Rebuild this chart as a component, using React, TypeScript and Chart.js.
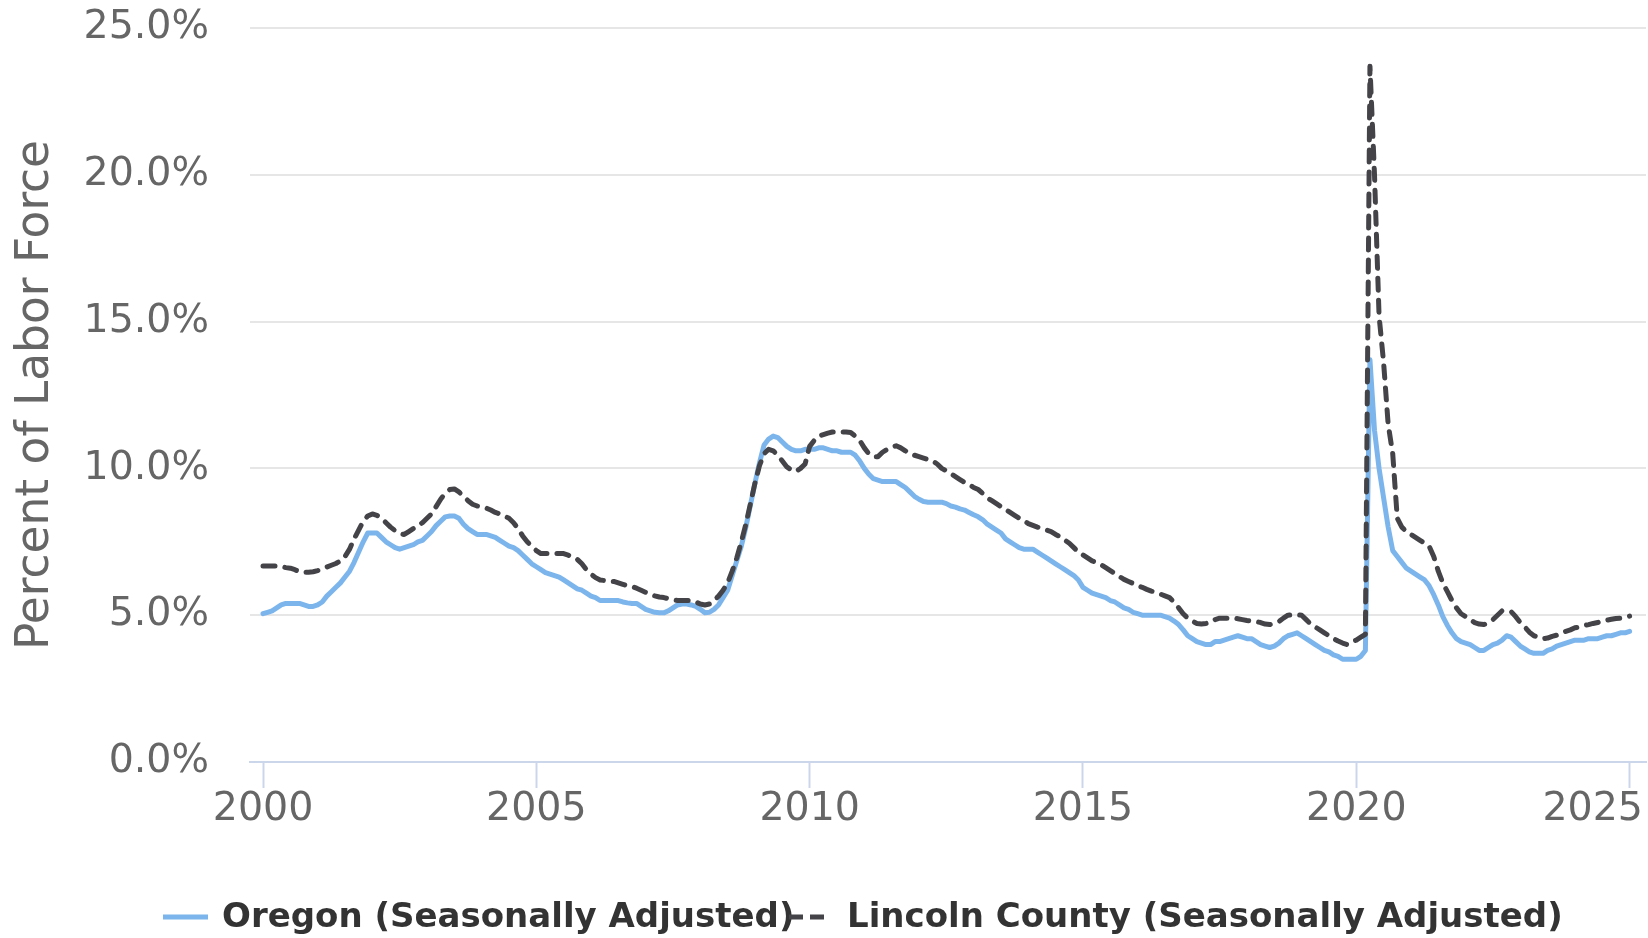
import React, { useEffect, useRef } from "react";
import { Chart, registerables } from "chart.js";

Chart.register(...registerables);

// ---- Data (monthly, Jan 2000 .. Jan 2025) ----
const START_YEAR = 2000;

const seriesNames = [
  "Oregon (Seasonally Adjusted)",
  "Lincoln County (Seasonally Adjusted)",
];

// Oregon unemployment rate, % of labor force
const oregonRate = [
  // 2000
  5.05, 5.1, 5.15, 5.25, 5.35, 5.4, 5.4, 5.4, 5.4, 5.35, 5.3, 5.3,
  // 2001
  5.35, 5.45, 5.65, 5.8, 5.95, 6.1, 6.3, 6.5, 6.8, 7.15, 7.5, 7.8,
  // 2002
  7.8, 7.8, 7.65, 7.5, 7.4, 7.3, 7.25, 7.3, 7.35, 7.4, 7.5, 7.55,
  // 2003
  7.7, 7.85, 8.05, 8.2, 8.35, 8.38, 8.38, 8.3, 8.1, 7.95, 7.85, 7.75,
  // 2004
  7.75, 7.75, 7.7, 7.65, 7.55, 7.45, 7.35, 7.3, 7.2, 7.05, 6.9, 6.75,
  // 2005
  6.65, 6.55, 6.45, 6.4, 6.35, 6.3, 6.2, 6.1, 6.0, 5.9, 5.85, 5.75,
  // 2006
  5.65, 5.6, 5.5, 5.5, 5.5, 5.5, 5.5, 5.45, 5.42, 5.4, 5.4, 5.3,
  // 2007
  5.2, 5.15, 5.1, 5.08, 5.08, 5.15, 5.25, 5.35, 5.38, 5.38, 5.35, 5.3,
  // 2008
  5.2, 5.08, 5.1, 5.2, 5.35, 5.6, 5.85, 6.35, 6.85, 7.35, 8.0, 8.75,
  // 2009
  9.5, 10.2, 10.8, 11.0, 11.1, 11.05, 10.9, 10.75, 10.65, 10.6, 10.6, 10.65,
  // 2010
  10.65, 10.65, 10.7, 10.7, 10.65, 10.6, 10.6, 10.55, 10.55, 10.55, 10.45, 10.25,
  // 2011
  10.0, 9.8, 9.65, 9.6, 9.55, 9.55, 9.55, 9.55, 9.45, 9.35, 9.2, 9.05,
  // 2012
  8.95, 8.87, 8.85, 8.85, 8.85, 8.85, 8.8, 8.72, 8.68, 8.62, 8.58, 8.5,
  // 2013
  8.42, 8.35, 8.25, 8.1, 8.0, 7.9, 7.8, 7.6, 7.5, 7.4, 7.3, 7.25,
  // 2014
  7.25, 7.25, 7.15, 7.05, 6.95, 6.85, 6.75, 6.65, 6.55, 6.45, 6.35, 6.2,
  // 2015
  5.95, 5.85, 5.75, 5.7, 5.65, 5.6, 5.5, 5.45, 5.35, 5.25, 5.2, 5.1,
  // 2016
  5.05, 5.0, 5.0, 5.0, 5.0, 5.0, 4.95, 4.9, 4.8, 4.68, 4.5, 4.3,
  // 2017
  4.2, 4.1, 4.05, 4.0, 4.0, 4.1, 4.1, 4.15, 4.2, 4.25, 4.3, 4.25,
  // 2018
  4.2, 4.2, 4.1, 4.0, 3.95, 3.9, 3.95, 4.05, 4.2, 4.3, 4.35, 4.4,
  // 2019
  4.3, 4.2, 4.1, 4.0, 3.9, 3.8, 3.75, 3.65, 3.6, 3.5, 3.5, 3.5,
  // 2020
  3.5, 3.6, 3.8, 13.7, 11.3, 10.0, 9.0, 8.0, 7.2, 7.0, 6.8, 6.6,
  // 2021
  6.5, 6.4, 6.3, 6.2, 6.0, 5.7, 5.35, 4.95, 4.65, 4.4, 4.2, 4.1,
  // 2022
  4.05, 4.0, 3.9, 3.8, 3.8, 3.9, 4.0, 4.05, 4.15, 4.3, 4.25, 4.1,
  // 2023
  3.95, 3.85, 3.75, 3.7, 3.7, 3.7, 3.8, 3.85, 3.95, 4.0, 4.05, 4.1,
  // 2024
  4.15, 4.15, 4.15, 4.2, 4.2, 4.2, 4.25, 4.3, 4.3, 4.35, 4.4, 4.4,
  // 2025
  4.45,
];

// Lincoln County unemployment rate, % of labor force
const lincolnRate = [
  // 2000
  6.68, 6.68, 6.68, 6.68, 6.66, 6.62, 6.6, 6.55, 6.48, 6.46, 6.46, 6.48,
  // 2001
  6.52, 6.58, 6.64, 6.7, 6.76, 6.85, 7.0, 7.25, 7.6, 7.9, 8.2, 8.38,
  // 2002
  8.45, 8.4, 8.3, 8.15, 8.0, 7.88, 7.78, 7.75, 7.85, 7.95, 8.05, 8.15,
  // 2003
  8.3, 8.45, 8.7, 8.95, 9.15, 9.28, 9.3, 9.2, 9.05, 8.9, 8.78, 8.72,
  // 2004
  8.68, 8.65, 8.58, 8.5, 8.45, 8.38, 8.3, 8.15, 7.95, 7.7, 7.5, 7.35,
  // 2005
  7.2, 7.1, 7.1, 7.1, 7.1, 7.1, 7.1, 7.05, 6.95, 6.9, 6.75, 6.55,
  // 2006
  6.4, 6.28, 6.2, 6.18, 6.15, 6.15, 6.1, 6.05, 6.0, 5.98, 5.92, 5.85,
  // 2007
  5.78, 5.72, 5.66, 5.62, 5.6, 5.56, 5.52, 5.5, 5.5, 5.5, 5.5, 5.45,
  // 2008
  5.38, 5.35, 5.38, 5.5, 5.65, 5.85, 6.1, 6.5, 6.95, 7.5, 8.1, 8.8,
  // 2009
  9.5, 10.1, 10.5, 10.65, 10.6, 10.45, 10.25, 10.05, 9.95, 9.9, 10.0, 10.15,
  // 2010
  10.75, 10.95, 11.1, 11.15, 11.2, 11.24, 11.24, 11.24, 11.24, 11.22, 11.1, 10.95,
  // 2011
  10.7, 10.5, 10.4, 10.4, 10.55, 10.65, 10.72, 10.77, 10.7, 10.6, 10.5, 10.45,
  // 2012
  10.4, 10.35, 10.3, 10.25, 10.15, 10.0, 9.92, 9.82, 9.72, 9.62, 9.52, 9.45,
  // 2013
  9.35, 9.28, 9.15, 9.0, 8.9, 8.8, 8.7, 8.6, 8.5, 8.4, 8.3, 8.22,
  // 2014
  8.12, 8.06, 8.0, 7.95, 7.9, 7.85, 7.75, 7.67, 7.56, 7.45, 7.3, 7.15,
  // 2015
  7.05, 6.95, 6.85, 6.8, 6.72, 6.62, 6.52, 6.42, 6.32, 6.22, 6.15, 6.08,
  // 2016
  6.0, 5.95, 5.88, 5.82, 5.78, 5.72, 5.66, 5.6, 5.45, 5.25, 5.05, 4.9,
  // 2017
  4.8, 4.72, 4.7, 4.72, 4.75, 4.85, 4.9, 4.9, 4.9, 4.9, 4.88, 4.85,
  // 2018
  4.82, 4.8, 4.78, 4.75, 4.7, 4.68, 4.72, 4.78, 4.9, 5.0, 5.02, 5.02,
  // 2019
  5.0, 4.85, 4.7, 4.6, 4.5, 4.4, 4.3, 4.2, 4.12, 4.05, 4.0, 4.1,
  // 2020
  4.15, 4.25, 4.35, 23.7, 20.0, 15.2, 13.6, 11.5, 10.5, 8.3, 8.0, 7.85,
  // 2021
  7.75, 7.65, 7.55, 7.45, 7.35, 7.0, 6.5, 6.1, 5.8, 5.5, 5.25, 5.05,
  // 2022
  4.95, 4.85, 4.75, 4.7, 4.68, 4.75, 4.85, 5.0, 5.15, 5.15, 5.12, 4.95,
  // 2023
  4.75, 4.6, 4.42, 4.3, 4.25, 4.2, 4.22, 4.28, 4.32, 4.38, 4.45, 4.5,
  // 2024
  4.57, 4.6, 4.65, 4.68, 4.72, 4.75, 4.8, 4.83, 4.86, 4.89, 4.9, 4.93,
  // 2025
  4.97,
];

const xTickYears = [2000, 2005, 2010, 2015, 2020, 2025];
const yTickValues = [0, 5, 10, 15, 20, 25];

const COLORS = { oregon: "#7cb5ec", lincoln: "#434348" };
const FONT = '"DejaVu Sans", "Noto Sans", sans-serif';

const toPoints = (values: number[]) =>
  values.map((v, i) => ({ x: START_YEAR + i / 12, y: v }));

// Center x labels on their ticks; keep the last one inside the canvas
const xLabelAlignPlugin = {
  id: "xLabelAlign",
  beforeDraw(chart: any) {
    const s = chart.scales.x;
    const items = s.getLabelItems(chart.chartArea);
    if (!items || !items.length) return;
    const edge = chart.width - 5;
    items.forEach((it: any, i: number) => {
      const px = s.getPixelForValue(xTickYears[i]);
      const y = it.options.translation[1];
      const isLast = i === items.length - 1;
      if (isLast && px + 49 > edge) {
        it.options.textAlign = "right";
        it.options.translation = [edge, y];
      } else {
        it.options.textAlign = "center";
        it.options.translation = [px, y];
      }
    });
  },
};

// Legend drawn on the canvas (layout positions only)
const legendPlugin = {
  id: "bottomLegend",
  afterDraw(chart: any) {
    const ctx = chart.ctx as CanvasRenderingContext2D;
    const y = 917;
    ctx.save();
    ctx.strokeStyle = COLORS.oregon;
    ctx.lineWidth = 5;
    ctx.lineCap = "butt";
    ctx.setLineDash([]);
    ctx.beginPath();
    ctx.moveTo(163, y);
    ctx.lineTo(208, y);
    ctx.stroke();
    ctx.font = `bold 34px ${FONT}`;
    ctx.fillStyle = "#333333";
    ctx.textBaseline = "middle";
    ctx.textAlign = "left";
    ctx.fillText(seriesNames[0], 222, y + 1);
    ctx.strokeStyle = COLORS.lincoln;
    ctx.lineWidth = 5;
    ctx.setLineDash([14, 7]);
    ctx.beginPath();
    ctx.moveTo(789, y);
    ctx.lineTo(825, y);
    ctx.stroke();
    ctx.setLineDash([]);
    ctx.fillText(seriesNames[1], 847, y + 1);
    ctx.restore();
  },
};

export default function App() {
  const canvasRef = useRef<HTMLCanvasElement | null>(null);

  useEffect(() => {
    const canvas = canvasRef.current;
    if (!canvas) return;
    Chart.defaults.font.family = FONT;

    const chart = new Chart(canvas, {
      type: "line",
      data: {
        datasets: [
          {
            label: seriesNames[0],
            data: toPoints(oregonRate),
            borderColor: COLORS.oregon,
            backgroundColor: COLORS.oregon,
            borderWidth: 5,
            pointRadius: 0,
            tension: 0,
            borderJoinStyle: "round",
            borderCapStyle: "round",
            order: 1,
          },
          {
            label: seriesNames[1],
            data: toPoints(lincolnRate),
            borderColor: COLORS.lincoln,
            backgroundColor: COLORS.lincoln,
            borderWidth: 5,
            borderDash: [12, 10],
            borderCapStyle: "round",
            borderJoinStyle: "round",
            pointRadius: 0,
            tension: 0,
            order: 0,
          },
        ],
      },
      options: {
        responsive: false,
        animation: false,
        layout: { padding: { top: 28, right: 2, left: 0, bottom: 0 } },
        plugins: {
          legend: { display: false },
          tooltip: { enabled: false },
        },
        scales: {
          x: {
            type: "linear",
            min: 1999.762,
            max: 2025.3,
            afterBuildTicks: (s: any) => {
              s.ticks = xTickYears.map((v) => ({ value: v }));
            },
            afterFit: (s: any) => {
              s.height = 176;
              s.paddingLeft = 0;
              s.paddingRight = 0;
            },
            grid: {
              display: true,
              drawOnChartArea: false,
              drawTicks: true,
              tickLength: 26,
              tickColor: "#ccd6eb",
              tickWidth: 2,
            },
            border: { display: true, color: "#ccd6eb", width: 2 },
            ticks: {
              color: "#666666",
              font: { size: 39.5, lineHeight: 1.1, family: FONT },
              padding: 0,
              maxRotation: 0,
              autoSkip: false,
              callback: (v: any) => String(v),
            },
          },
          y: {
            type: "linear",
            min: 0,
            max: 25,
            afterBuildTicks: (s: any) => {
              s.ticks = yTickValues.map((v) => ({ value: v }));
            },
            afterFit: (s: any) => {
              s.width = 250;
              s.paddingTop = 0;
              s.paddingBottom = 0;
            },
            grid: { color: "#e6e6e6", lineWidth: 2, drawTicks: false },
            border: { display: false },
            ticks: {
              color: "#666666",
              font: { size: 39.5, family: FONT },
              padding: 41,
              callback: (v: any) => Number(v).toFixed(1) + "%",
            },
            title: {
              display: true,
              text: "Percent of Labor Force",
              color: "#666666",
              font: { size: 45.5, family: FONT },
              padding: { top: 9, bottom: 0 },
            },
          },
        },
      },
      plugins: [xLabelAlignPlugin, legendPlugin],
    } as any);

    return () => chart.destroy();
  }, []);

  return (
    <div style={{ position: "absolute", left: 0, top: 0, width: 1648, height: 938 }}>
      <canvas ref={canvasRef} width={1648} height={938} style={{ display: "block" }} />
    </div>
  );
}
